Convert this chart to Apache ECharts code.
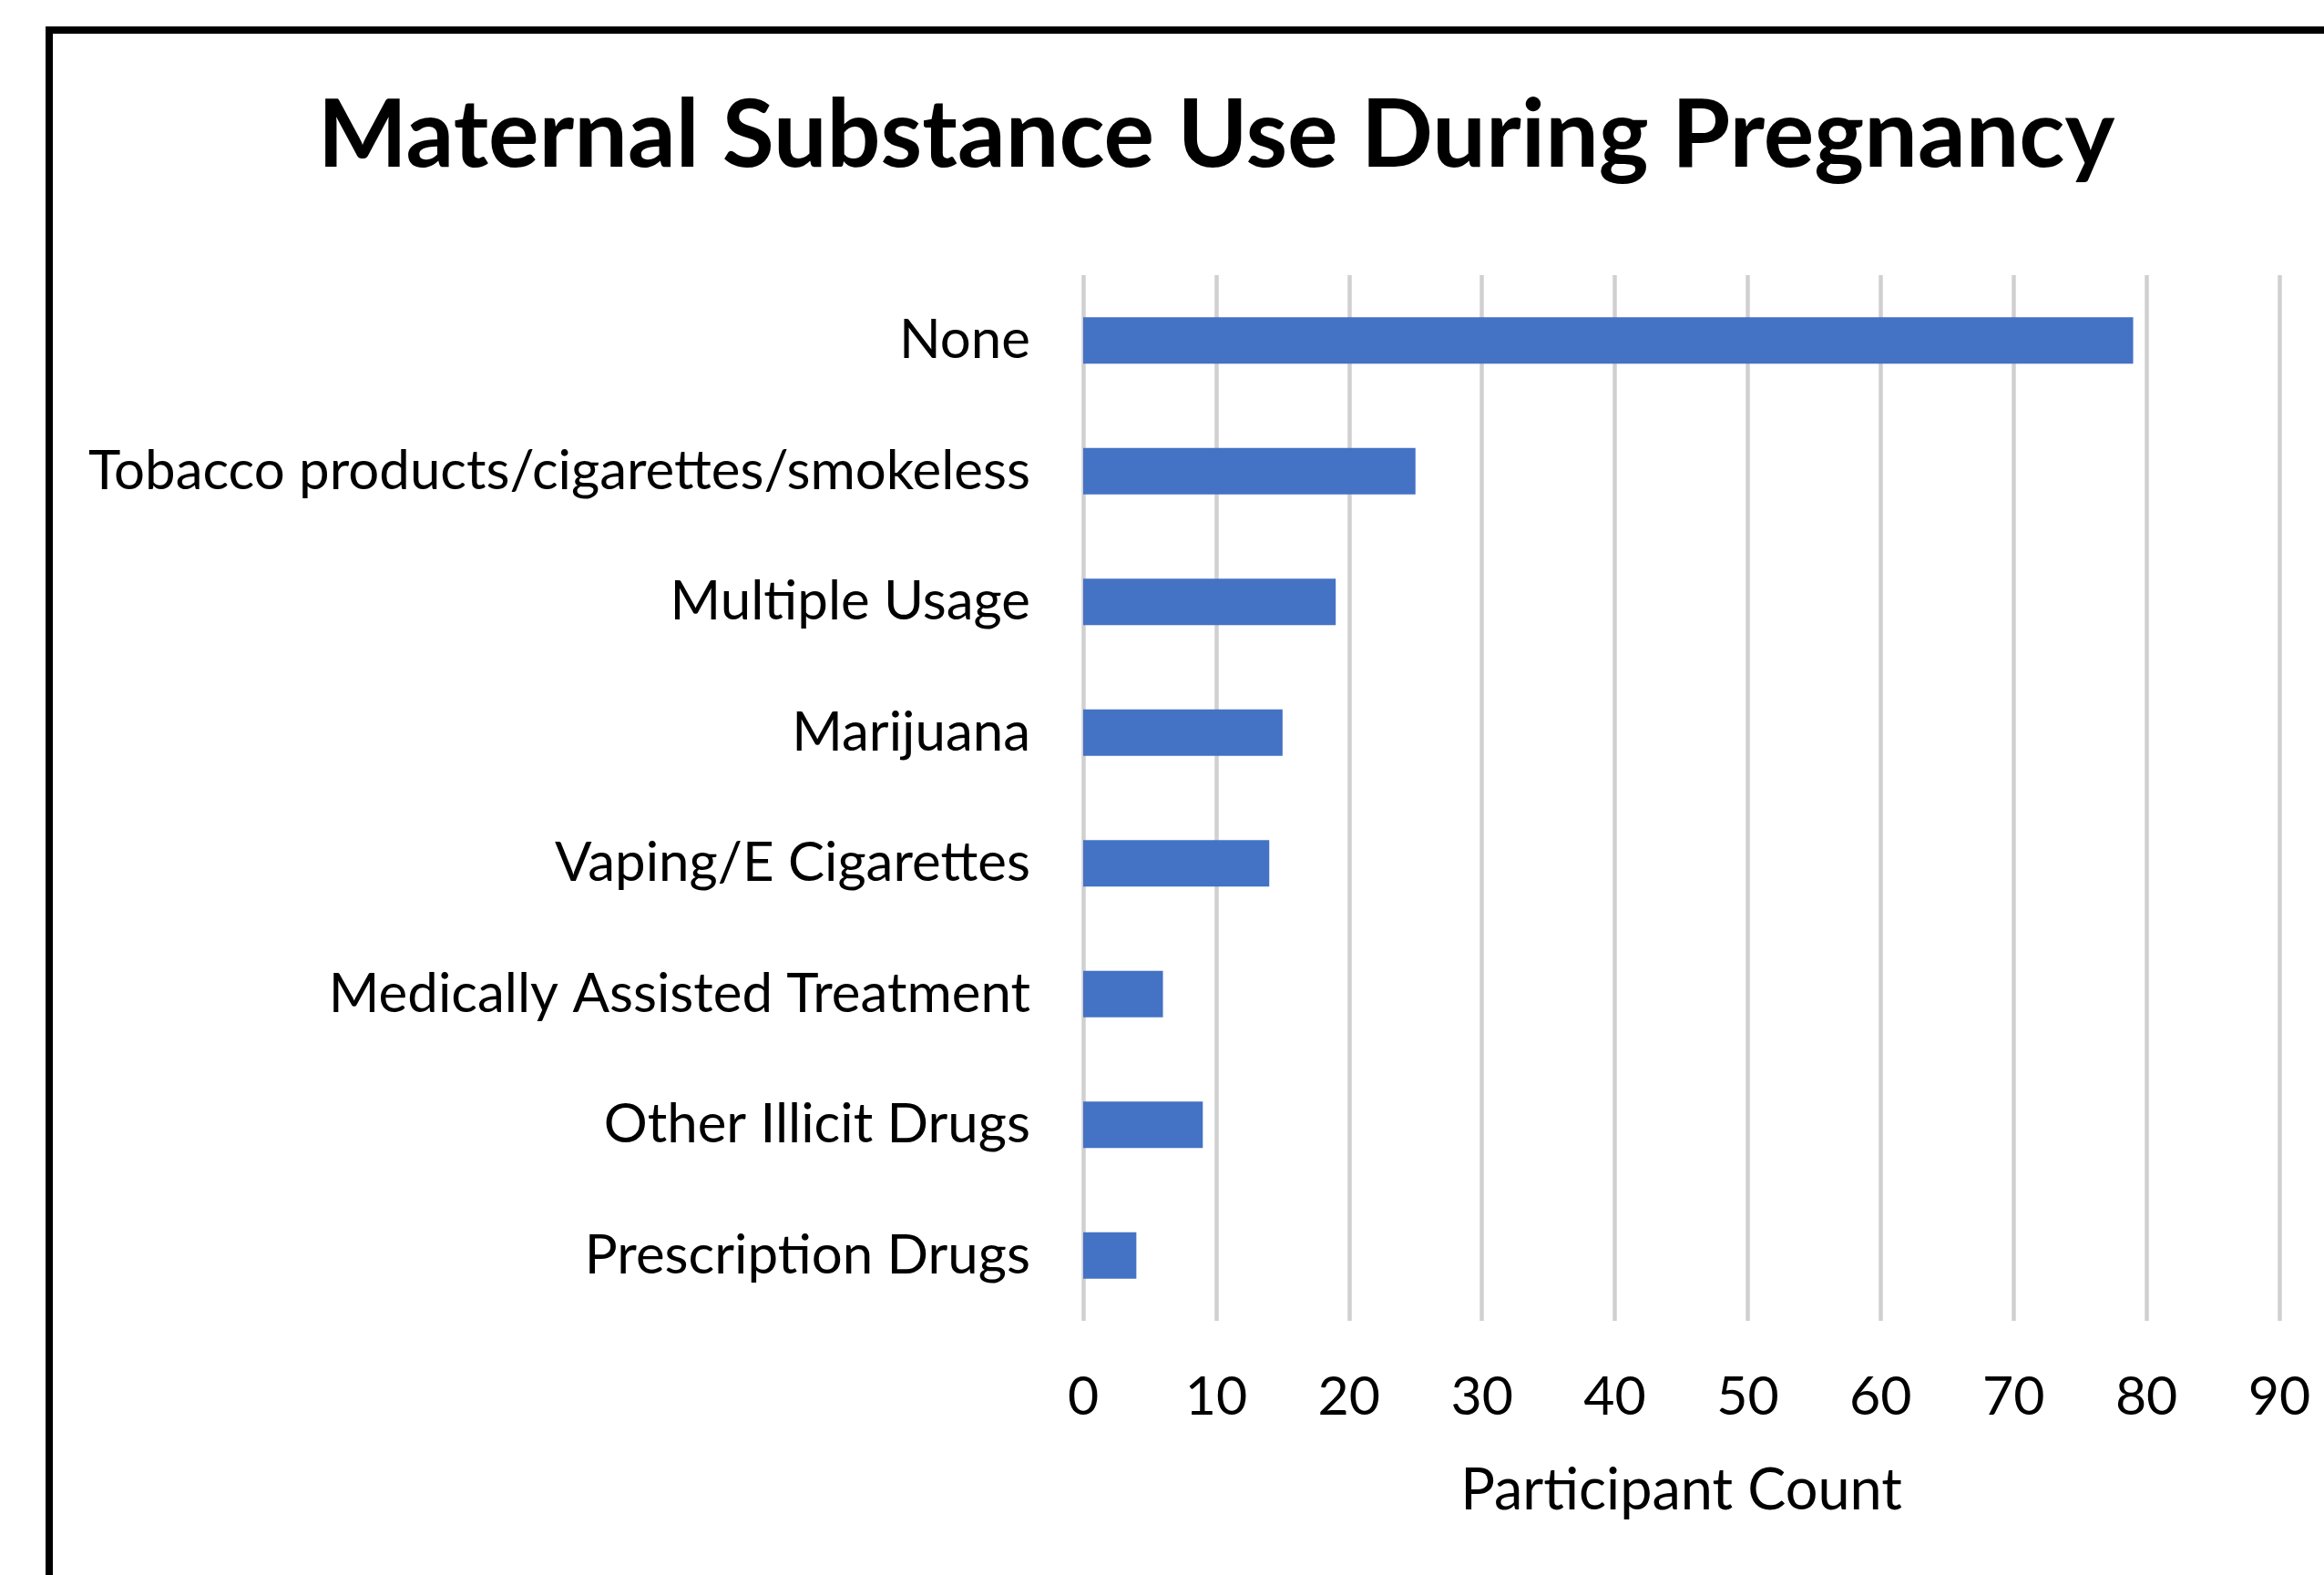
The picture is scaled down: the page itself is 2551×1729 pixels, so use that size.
<!DOCTYPE html>
<html>
<head>
<meta charset="utf-8">
<script src="https://cdn.jsdelivr.net/npm/echarts@6/dist/echarts.min.js"></script>
<style>
  html, body { margin: 0; padding: 0; background: #fff; }
  #chart { width: 2551px; height: 1729px; }
</style>
</head>
<body>
<div id="chart"></div>
<script>
// categories top to bottom, as in the picture
const categories = [
  "None",
  "Tobacco products/cigarettes/smokeless",
  "Multiple Usage",
  "Marijuana",
  "Vaping/E Cigarettes",
  "Medically Assisted Treatment",
  "Other Illicit Drugs",
  "Prescription Drugs",
];
const counts = [79, 25, 19, 15, 14, 6, 9, 4];
const xTicks = { min: 0, max: 90, step: 10 };

const font = "Lato, 'Open Sans', sans-serif";

const myChart = echarts.init(document.getElementById("chart"));
const option = {
  backgroundColor: "#fff",
  animation: false,
  title: {
    text: "Maternal Substance Use During Pregnancy",
    left: 1330,
    textAlign: "center",
    top: 92,
    textStyle: {
      fontFamily: font,
      fontWeight: "bold",
      fontSize: 104,
      color: "#000",
    },
  },
  graphic: [
    {
      type: "rect",
      shape: { x: 54, y: 33, width: 2600, height: 1800 },
      style: { fill: "none", stroke: "#000", lineWidth: 8 },
      silent: true,
    },
  ],
  grid: {
    left: 1189,
    right: 49,
    top: 302,
    bottom: 279,
    containLabel: false,
  },
  xAxis: {
    type: "value",
    min: xTicks.min,
    max: xTicks.max,
    interval: xTicks.step,
    name: "Participant Count",
    nameLocation: "middle",
    nameGap: 155,
    nameTextStyle: { fontFamily: font, fontSize: 63, color: "#000" },
    axisLine: { show: false },
    axisTick: { show: false },
    axisLabel: {
      margin: 54,
      fontFamily: font,
      fontSize: 59,
      color: "#000",
    },
    splitLine: { show: true, lineStyle: { color: "#d0d0d0", width: 4.5 } },
  },
  yAxis: {
    type: "category",
    inverse: true,
    data: categories,
    axisLine: { show: false },
    axisTick: { show: false },
    axisLabel: {
      margin: 58,
      fontFamily: font,
      fontSize: 60,
      color: "#000",
    },
  },
  series: [
    {
      type: "bar",
      data: counts,
      barWidth: "35.5%",
      itemStyle: { color: "#4472C4" },
    },
  ],
};
myChart.setOption(option);
</script>
</body>
</html>
